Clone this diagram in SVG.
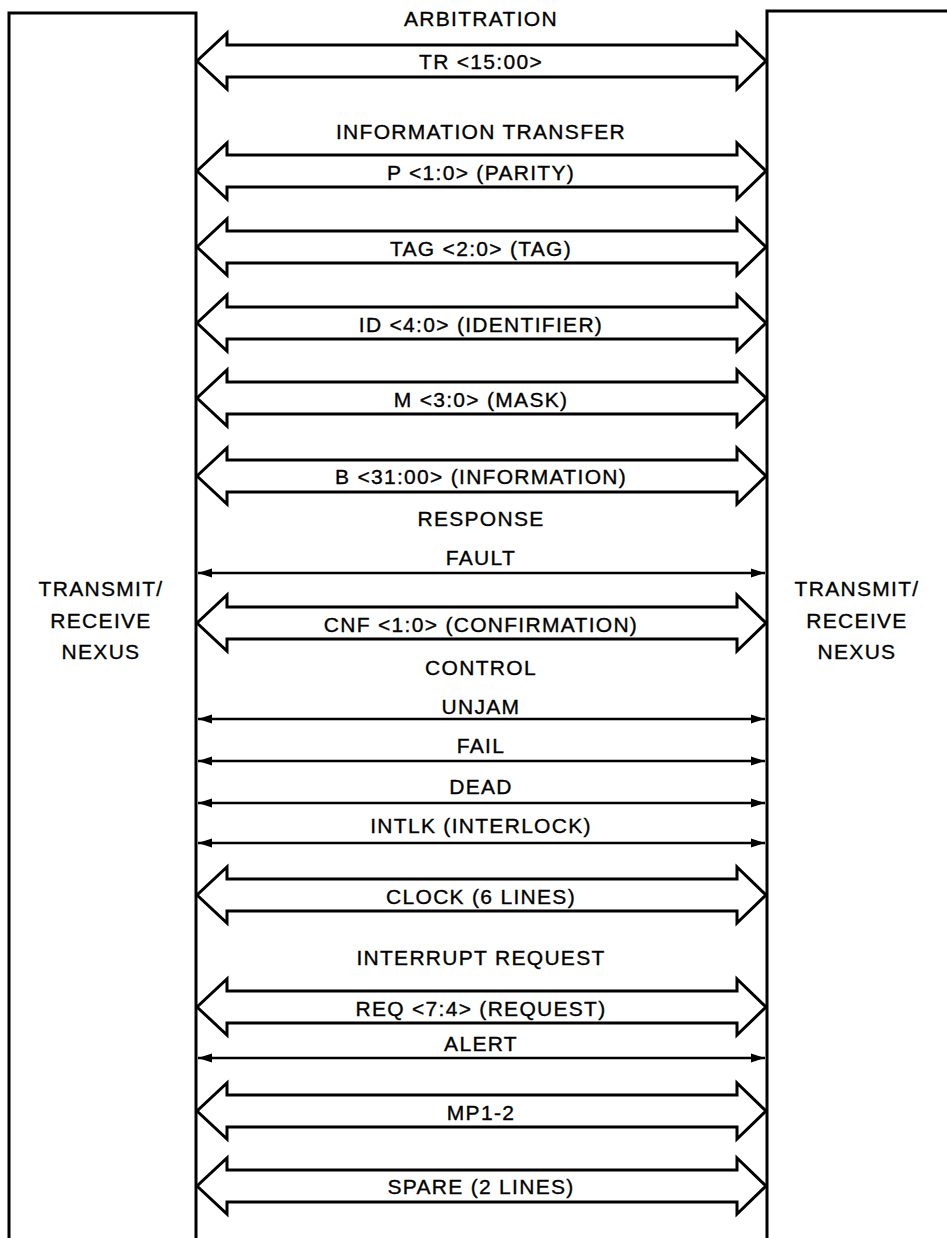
<svg xmlns="http://www.w3.org/2000/svg" xmlns:xlink="http://www.w3.org/1999/xlink" width="947" height="1238" viewBox="0 0 947 1238">
<style>
  .box { fill: none; stroke: #000; stroke-width: 3; }
  .bus { fill: #fff; stroke: #000; stroke-width: 3; stroke-linejoin: miter; }
  .line { stroke: #000; stroke-width: 2.5; }
  text { font-family: "Liberation Sans", Arial, sans-serif; font-size: 21px; fill: #000; stroke: #000; stroke-width: 0.35; text-anchor: middle; letter-spacing: 1.3px; }
</style>
<defs>
  <path id="busShape" d="M227,-16 L737,-16 L737,-28 L766,0 L737,28 L737,16 L227,16 L227,28 L197,0 L227,-28 Z"/>
  <marker id="headR" markerWidth="15" markerHeight="12" refX="14" refY="6" orient="auto" markerUnits="userSpaceOnUse">
    <path d="M0,1.5 L14,6 L0,10.5 Z" fill="#000"/>
  </marker>
  <marker id="headL" markerWidth="15" markerHeight="12" refX="1" refY="6" orient="auto" markerUnits="userSpaceOnUse">
    <path d="M15,1.5 L1,6 L15,10.5 Z" fill="#000"/>
  </marker>
</defs>
<rect width="947" height="1238" fill="#fff"/>

<g id="left-nexus">
  <path class="box" d="M9,1240 L9,13 L196,13 L196,1240"/>
  <text x="101" y="596">TRANSMIT/</text>
  <text x="101" y="628">RECEIVE</text>
  <text x="101" y="659">NEXUS</text>
</g>
<g id="right-nexus">
  <path class="box" d="M767,1240 L767,11 L950,11"/>
  <text x="857" y="596">TRANSMIT/</text>
  <text x="857" y="628">RECEIVE</text>
  <text x="857" y="659">NEXUS</text>
</g>

<g id="connectors">
  <use xlink:href="#busShape" class="bus" y="61"/>
  <use xlink:href="#busShape" class="bus" y="171"/>
  <use xlink:href="#busShape" class="bus" y="247"/>
  <use xlink:href="#busShape" class="bus" y="323"/>
  <use xlink:href="#busShape" class="bus" y="398"/>
  <use xlink:href="#busShape" class="bus" y="476"/>
  <line class="line" x1="198" y1="573" x2="765" y2="573" marker-start="url(#headL)" marker-end="url(#headR)"/>
  <use xlink:href="#busShape" class="bus" y="623"/>
  <line class="line" x1="198" y1="719" x2="765" y2="719" marker-start="url(#headL)" marker-end="url(#headR)"/>
  <line class="line" x1="198" y1="761" x2="765" y2="761" marker-start="url(#headL)" marker-end="url(#headR)"/>
  <line class="line" x1="198" y1="803" x2="765" y2="803" marker-start="url(#headL)" marker-end="url(#headR)"/>
  <line class="line" x1="198" y1="843" x2="765" y2="843" marker-start="url(#headL)" marker-end="url(#headR)"/>
  <use xlink:href="#busShape" class="bus" y="895"/>
  <use xlink:href="#busShape" class="bus" y="1007"/>
  <line class="line" x1="198" y1="1058" x2="765" y2="1058" marker-start="url(#headL)" marker-end="url(#headR)"/>
  <use xlink:href="#busShape" class="bus" y="1111"/>
  <use xlink:href="#busShape" class="bus" y="1186"/>
</g>

<g id="labels">
  <text x="481" y="26">ARBITRATION</text>
  <text x="481" y="69">TR &lt;15:00&gt;</text>
  <text x="481" y="139">INFORMATION TRANSFER</text>
  <text x="481" y="180">P &lt;1:0&gt; (PARITY)</text>
  <text x="481" y="256">TAG &lt;2:0&gt; (TAG)</text>
  <text x="481" y="332">ID &lt;4:0&gt; (IDENTIFIER)</text>
  <text x="481" y="407">M &lt;3:0&gt; (MASK)</text>
  <text x="481" y="484">B &lt;31:00&gt; (INFORMATION)</text>
  <text x="481" y="526">RESPONSE</text>
  <text x="481" y="565">FAULT</text>
  <text x="481" y="632">CNF &lt;1:0&gt; (CONFIRMATION)</text>
  <text x="481" y="675">CONTROL</text>
  <text x="481" y="714">UNJAM</text>
  <text x="481" y="753">FAIL</text>
  <text x="481" y="794">DEAD</text>
  <text x="481" y="833">INTLK (INTERLOCK)</text>
  <text x="481" y="904">CLOCK (6 LINES)</text>
  <text x="481" y="965">INTERRUPT REQUEST</text>
  <text x="481" y="1016">REQ &lt;7:4&gt; (REQUEST)</text>
  <text x="481" y="1051">ALERT</text>
  <text x="481" y="1120">MP1-2</text>
  <text x="481" y="1194">SPARE (2 LINES)</text>
</g>
</svg>
